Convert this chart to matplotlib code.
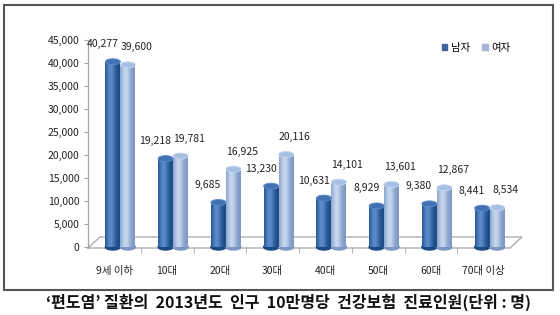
import numpy as np
import matplotlib
matplotlib.use('Agg')
import matplotlib.pyplot as plt
from matplotlib.patches import Ellipse, Rectangle, Patch
from matplotlib.colors import to_rgb
from matplotlib.ticker import FuncFormatter

plt.rcParams['font.family'] = ['Noto Sans CJK KR', 'DejaVu Sans']

categories = ['9세 이하', '10대', '20대', '30대', '40대', '50대', '60대', '70대 이상']
male = [40277, 19218, 9685, 13230, 10631, 8929, 9380, 8441]
female = [39600, 19781, 16925, 20116, 14101, 13601, 12867, 8534]
series_names = ['남자', '여자']
title = '‘편도염’ 질환의  2013년도  인구  10만명당  건강보험  진료인원(단위 : 명)'

W, H = 560, 315
fig = plt.figure(figsize=(W / 100, H / 100), dpi=100)

# axes placed in pixel terms: left 88, right 510, top 40, bottom 247
ax_l, ax_r, ax_t, ax_b = 88, 510, 40, 247
ax = fig.add_axes([ax_l / W, 1 - ax_b / H, (ax_r - ax_l) / W, (ax_b - ax_t) / H])
ax.set_xlim(-0.5, len(categories) - 0.5)
ax.set_ylim(0, 45000)
for s in ax.spines.values():
    s.set_visible(False)

px_x = (len(categories)) / (ax_r - ax_l)   # data units per pixel (x)
px_y = 45000 / (ax_b - ax_t)               # data units per pixel (y)


def ax_pt(x, y):
    return (x - ax_l) / (ax_r - ax_l), (ax_b - y) / (ax_b - ax_t)


# 3D floor and axis lines
floor = [(88, 248), (510, 248), (522, 237), (100, 237), (88, 248)]
fx, fy = zip(*[ax_pt(*p) for p in floor])
ax.plot(fx, fy, color='#a6a6a6', lw=0.9, transform=ax.transAxes, clip_on=False, zorder=1)
vx, vy = zip(*[ax_pt(88, 40), ax_pt(88, 248)])
ax.plot(vx, vy, color='#a6a6a6', lw=0.9, transform=ax.transAxes, clip_on=False, zorder=1)

# ticks
ax.set_yticks(np.arange(0, 45001, 5000))
ax.yaxis.set_major_formatter(FuncFormatter(lambda v, p: f'{int(v):,}'))
ax.tick_params(axis='y', length=3, color='#a6a6a6', labelsize=7.5, pad=3, labelcolor='#222222')
ax.set_xticks(range(len(categories)))
ax.set_xticklabels(categories)
ax.tick_params(axis='x', length=0, labelsize=7.5, pad=14, labelcolor='#222222')
ax.set_xticks(np.arange(0.5, len(categories) - 0.5), minor=True)
ax.tick_params(axis='x', which='minor', length=4, color='#a6a6a6')

# cylinders
x = np.arange(len(categories))
shift = 6 * px_x
bw = 15 * px_x
cap_h = 6 * px_y

styles = {
    '남자': dict(dark='#1b4984', light='#5b8bcc', cap='#4372b4', off=-bw / 2, dx=-7.5),
    '여자': dict(dark='#7c97c3', light='#c6d6ef', cap='#a8bfe4', off=bw / 2, dx=6.0),
}

t = np.linspace(0, 1, 64)
prof = np.exp(-((t - 0.38) / 0.32) ** 2)

for name, vals in zip(series_names, [male, female]):
    st = styles[name]
    d = np.array(to_rgb(st['dark']))
    l = np.array(to_rgb(st['light']))
    grad = (d[None, :] * (1 - prof[:, None]) + l[None, :] * prof[:, None])[None, :, :]
    bars = ax.bar(x + shift + st['off'], vals, bw, color=st['dark'], zorder=3)
    for b, v in zip(bars, vals):
        x0 = b.get_x()
        x1 = x0 + b.get_width()
        xc = x0 + b.get_width() / 2
        ax.imshow(grad, extent=[x0, x1, 0, v], aspect='auto', zorder=3.1,
                  interpolation='bilinear')
        ax.add_patch(Ellipse((xc, 0), b.get_width(), cap_h, color=st['dark'],
                             zorder=2.9, clip_on=False))
        ax.add_patch(Ellipse((xc, v), b.get_width(), cap_h, facecolor=st['cap'],
                             edgecolor=st['light'], lw=0.6, zorder=3.2))
        ax.annotate(f'{v:,}', (xc, v), xytext=(st['dx'], 9), textcoords='offset points',
                    ha='center', va='bottom', fontsize=7.5, color='#222222', zorder=5)

ax.set_xlim(-0.5, len(categories) - 0.5)
ax.set_ylim(0, 45000)
ax.set_aspect('auto')

# legend
handles = [Patch(color='#3f659e', label='남자'), Patch(color='#a3b6d5', label='여자')]
fig.legend(handles=handles, loc='center', bbox_to_anchor=(476 / W, 1 - 48 / H), ncol=2,
           frameon=False, fontsize=7.5, handlelength=0.55, handleheight=0.55,
           handletextpad=0.3, columnspacing=1.2, borderpad=0)

# outer frame
fig.add_artist(Rectangle((4 / W, 1 - 290 / H), 549 / W, 285 / H, transform=fig.transFigure,
                         fill=False, edgecolor='#555555', lw=1.5))

fig.text(288 / W, 1 - 302 / H, title, ha='center', va='center', fontsize=11.5,
         fontweight='bold', color='#111111')

fig.savefig('out.png', dpi=100)
